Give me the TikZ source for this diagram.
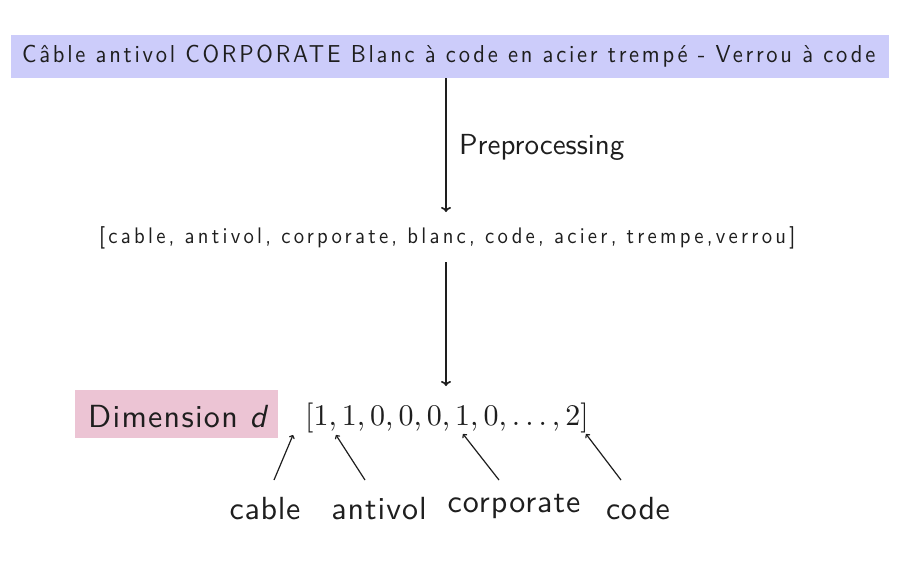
\documentclass[tikz,border=0pt]{standalone}
\usepackage{fontspec}
\setsansfont{lmsans10}[Extension=.otf, UprightFont=*-regular, ItalicFont=*-oblique, BoldFont=*-bold, BoldItalicFont=*-boldoblique]
\setmainfont{lmroman10}[Extension=.otf, UprightFont=*-regular, ItalicFont=*-italic, BoldFont=*-bold, BoldItalicFont=*-bolditalic]
\usetikzlibrary{arrows.meta}
\definecolor{lav}{RGB}{204,204,250}
\definecolor{pinkbox}{RGB}{236,196,212}
\definecolor{ink}{RGB}{30,30,30}
\newcommand{\ls}[1]{\addfontfeature{LetterSpace=#1}}
\newcommand{\lsc}[2]{\addfontfeature{LetterSpace=#1,FakeStretch=#2}}
\begin{document}
\begin{tikzpicture}[x=1pt,y=-1pt,font=\sffamily,
  bigarr/.style={-{To[length=5pt,width=10pt]}, line width=1.7pt, draw=ink},
  smallarr/.style={-{To[length=3.5pt,width=6pt]}, line width=1.2pt, draw=ink},
  lbl/.style={inner sep=0pt, text=ink},
  ]
\useasboundingbox (0,0) rectangle (902,576);
\fill[lav] (11,35) rectangle (889,78);
\node[lbl, anchor=base west] (title) at (22,62)
  {\fontsize{24.5}{30}\selectfont\lsc{11.2}{0.92}Câble antivol CORPORATE Blanc à code en acier trempé - Verrou à code};
\node[lbl, anchor=base west] (prep) at (459,154) {\fontsize{29}{32}\selectfont Preprocessing};
\node[lbl, anchor=base west] (list) at (99,243) {\fontsize{22.5}{26}\selectfont\lsc{14.5}{0.92}[cable, antivol, corporate, blanc, code, acier, trempe,verrou]};
\fill[pinkbox] (75,390) rectangle (278,438);
\node[lbl, anchor=base west] (dim) at (88,427) {\fontsize{32}{34}\selectfont\ls{4}Dimension {\itshape d}};
\node[lbl, anchor=base west] (vec) at (305,425) {\fontsize{30}{34}\selectfont\rmfamily [1,\,1,\,0,\,0,\,0,\,1,\,0,\,.\,.\,.\,,\,2]};
\node[lbl, anchor=base] (cable) at (265,519) {\fontsize{32}{34}\selectfont\ls{2}cable};
\node[lbl, anchor=base] (antivol) at (379,519) {\fontsize{32}{34}\selectfont\ls{3}antivol};
\node[lbl, anchor=base] (corporate) at (514,512) {\fontsize{32}{34}\selectfont\ls{3}corporate};
\node[lbl, anchor=base] (code) at (638,519) {\fontsize{32}{34}\selectfont\ls{2}code};
% connector end points
\coordinate (a1s) at (446,78);
\coordinate (a1e) at (446,212);
\coordinate (a2s) at (446,262);
\coordinate (a2e) at (446,386);
\draw[bigarr] (a1s) -- (a1e);
\draw[bigarr] (a2s) -- (a2e);
\coordinate (c1s) at (274,480); \coordinate (c1e) at (293,435);
\coordinate (c2s) at (365,480); \coordinate (c2e) at (336,435);
\coordinate (c3s) at (499,480); \coordinate (c3e) at (463,434);
\coordinate (c4s) at (621,480); \coordinate (c4e) at (586,434);
\draw[smallarr] (c1s) -- (c1e);
\draw[smallarr] (c2s) -- (c2e);
\draw[smallarr] (c3s) -- (c3e);
\draw[smallarr] (c4s) -- (c4e);
\end{tikzpicture}
\end{document}
